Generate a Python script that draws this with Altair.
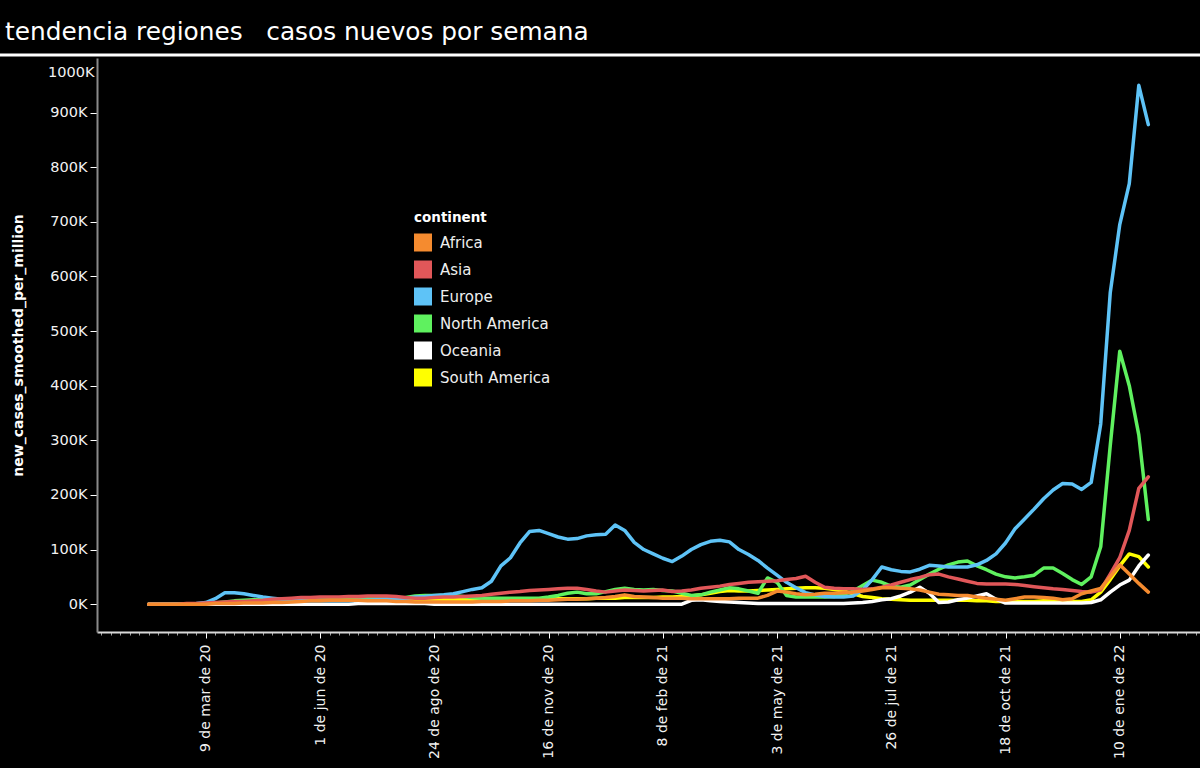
import json

import altair as alt
import pandas as pd

# Weekly series, thousands of new cases (smoothed, per million), starting 27 Jan 2020
FIRST_WEEK = "2020-01-27"
CONTINENTS = ["Africa", "Asia", "Europe", "North America", "Oceania", "South America"]
COLORS = ["#f58b2f", "#e15759", "#5ec3f7", "#5ff15f", "#ffffff", "#ffff00"]

AFRICA = [0, 0, 0, 0, 0, 0,
          0, 1, 1, 1, 2, 2, 2, 3, 3, 4,
          5, 6, 6, 7, 7, 7, 7, 6, 6, 6,
          5, 5, 4, 4, 4, 4, 4, 4, 4, 5,
          5, 5, 6, 6, 6, 7, 7, 8, 9, 9,
          10, 11, 12, 14, 17, 14, 13, 12, 11, 11,
          11, 10, 10, 10, 10, 10, 11, 11, 11, 16,
          24, 22, 19, 17, 18, 20, 20, 21, 22, 24,
          27, 30, 30, 29, 28, 26, 22, 18, 17, 16,
          16, 13, 11, 9, 7, 10, 13, 13, 12, 11,
          8, 10, 19, 24, 29, 50, 72, 55, 38, 22]

ASIA = [0, 0, 0, 0, 1, 1,
        2, 3, 4, 5, 5, 6, 7, 9, 10, 11,
        12, 12, 13, 13, 13, 14, 14, 15, 15, 15,
        14, 12, 11, 11, 12, 13, 13, 14, 15, 16,
        18, 20, 22, 23, 25, 26, 27, 28, 29, 29,
        27, 24, 22, 24, 26, 25, 24, 25, 26, 23,
        24, 26, 29, 31, 33, 36, 38, 40, 41, 42,
        43, 45, 47, 51, 40, 31, 29, 28, 28, 27,
        28, 31, 35, 40, 45, 49, 54, 55, 50, 46,
        42, 38, 37, 37, 37, 36, 34, 32, 30, 28,
        27, 25, 23, 22, 26, 55, 85, 135, 212, 233]

EUROPE = [0, 0, 0, 0, 0, 1,
          3, 10, 21, 21, 19, 16, 13, 11, 9, 7,
          6, 6, 6, 6, 6, 6, 7, 7, 8, 9,
          10, 11, 13, 14, 16, 17, 19, 23, 27, 30,
          42, 70, 85, 112, 133, 135, 129, 123, 119, 120,
          125, 127, 128, 145, 135, 113, 100, 92, 84, 78,
          88, 100, 109, 115, 117, 114, 100, 91, 80, 66,
          53, 40, 30, 21, 17, 14, 13, 13, 15, 26,
          45, 68, 63, 60, 59, 64, 71, 70, 68, 68,
          68, 72, 80, 92, 112, 138, 156, 174, 193, 209,
          221, 220, 210, 223, 330, 570, 695, 770, 950, 878]

NORTH_AMERICA = [0, 0, 0, 0, 0, 0,
                 1, 2, 4, 6, 7, 8, 8, 8, 7, 7,
                 7, 7, 8, 9, 10, 11, 12, 12, 12, 11,
                 11, 12, 15, 16, 16, 16, 16, 14, 12, 11,
                 11, 11, 11, 11, 11, 11, 13, 16, 20, 22,
                 19, 19, 23, 27, 29, 27, 26, 27, 25, 24,
                 20, 16, 17, 22, 26, 30, 28, 24, 20, 48,
                 40, 16, 13, 13, 13, 13, 14, 18, 24, 34,
                 44, 40, 33, 31, 35, 45, 55, 64, 72, 77,
                 79, 70, 63, 55, 50, 48, 50, 53, 66, 66,
                 56, 45, 36, 50, 105, 290, 463, 400, 310, 155]

OCEANIA = [0, 0, 0, 0, 0, 0,
           0, 0, 0, 0, 0, 0, 0, 0, 0, 0,
           0, 0, 0, 0, 0, 0, 1, 1, 1, 1,
           1, 1, 1, 1, 0, 0, 0, 0, 0, 0,
           0, 0, 0, 0, 0, 0, 0, 0, 0, 0,
           0, 0, 0, 0, 0, 0, 0, 0, 0, 0,
           0, 7, 8, 6, 5, 4, 3, 2, 1, 1,
           1, 1, 1, 1, 1, 1, 1, 1, 2, 3,
           5, 8, 10, 15, 22, 31, 20, 3, 4, 8,
           11, 15, 19, 9, 2, 2, 2, 2, 2, 2,
           2, 2, 2, 3, 8, 22, 35, 44, 70, 90]

SOUTH_AMERICA = [0, 0, 0, 0, 0, 0,
                 0, 0, 1, 1, 1, 2, 3, 4, 5, 6,
                 7, 8, 9, 10, 10, 11, 11, 11, 11, 11,
                 10, 10, 9, 9, 9, 8, 8, 8, 8, 8,
                 8, 9, 9, 9, 9, 9, 9, 10, 10, 10,
                 10, 11, 11, 11, 12, 12, 12, 12, 13, 13,
                 14, 15, 17, 20, 23, 25, 24, 24, 25, 26,
                 27, 28, 29, 30, 30, 29, 27, 24, 19, 14,
                 12, 10, 9, 8, 7, 7, 7, 7, 7, 7,
                 7, 6, 6, 5, 5, 5, 5, 5, 6, 6,
                 6, 5, 5, 8, 22, 45, 70, 92, 87, 68]

SERIES = [AFRICA, ASIA, EUROPE, NORTH_AMERICA, OCEANIA, SOUTH_AMERICA]

# Axis
TICK_DATES = ["2020-03-09", "2020-06-01", "2020-08-24", "2020-11-16", "2021-02-08",
              "2021-05-03", "2021-07-26", "2021-10-18", "2022-01-10"]
TICK_LABELS = ["9 de mar de 20", "1 de jun de 20", "24 de ago de 20", "16 de nov de 20",
               "8 de feb de 21", "3 de may de 21", "26 de jul de 21", "18 de oct de 21",
               "10 de ene de 22"]
AXIS_START, AXIS_END = "2019-12-20", "2022-03-10"
FIRST_MINOR_TICK = "2019-12-23"
Y_TICKS = [0, 100000, 200000, 300000, 400000, 500000, 600000, 700000, 800000, 900000, 1000000]
Y_DOMAIN = [-51000, 1000000]

FONT = "DejaVu Sans"


def ms(day):
    return int(pd.Timestamp(day).value // 1_000_000)


weeks = pd.date_range(FIRST_WEEK, periods=len(EUROPE), freq="7D")
rows = []
for name, values in zip(CONTINENTS, SERIES):
    for day, v in zip(weeks, values):
        rows.append({"week": day.strftime("%Y-%m-%d"), "continent": name, "cases": v * 1000})
df = pd.DataFrame(rows)

major_ms = json.dumps([ms(d) for d in TICK_DATES])
minor_ms = [ms(d) for d in pd.date_range(FIRST_MINOR_TICK, AXIS_END, freq="7D")]
is_major = f"indexof({major_ms}, toNumber(datum.value)) >= 0"
label_expr = (f"{is_major} ? {json.dumps(TICK_LABELS)}"
              f"[indexof({major_ms}, toNumber(datum.value))] : ''")

x = alt.X(
    "week:T",
    scale=alt.Scale(type="utc", domain=[ms(AXIS_START), ms(AXIS_END)]),
    axis=alt.Axis(
        values=minor_ms,
        labelExpr=label_expr,
        labelAngle=-90,
        labelAlign="right",
        labelBaseline="middle",
        labelPadding=6,
        labelOverlap=False,
        labelFlush=False,
        labelFont=FONT,
        labelFontSize=14,
        labelColor="#f2f2f2",
        tickSize={"condition": {"test": is_major, "value": 6}, "value": 3},
        tickColor={"condition": {"test": is_major, "value": "#ffffff"}, "value": "#a0a0a0"},
        tickWidth=1,
        domainColor="#d9d9d9",
        domainWidth=2,
        grid=False,
        title=None,
    ),
)

y = alt.Y(
    "cases:Q",
    scale=alt.Scale(domain=Y_DOMAIN, nice=False, zero=False),
    axis=alt.Axis(
        values=Y_TICKS,
        labelExpr="datum.value / 1000 + 'K'",
        labelFont=FONT,
        labelFontSize=14.5,
        labelColor="#f2f2f2",
        labelPadding=3,
        labelFlush=True,
        labelFlushOffset=-7,
        tickSize={"condition": {"test": "datum.value >= 1000000", "value": 0}, "value": 7},
        tickColor="#ffffff",
        domainColor="#8a8a8a",
        domainWidth=2,
        grid=False,
        title="new_cases_smoothed_per_million",
        titleFont=FONT,
        titleFontSize=14,
        titleFontWeight="bold",
        titleColor="#ffffff",
        titlePadding=22,
    ),
)

color = alt.Color(
    "continent:N",
    scale=alt.Scale(domain=CONTINENTS, range=COLORS),
    legend=alt.Legend(
        title="continent",
        orient="none",
        legendX=317,
        legendY=153,
        padding=0,
        symbolType="square",
        symbolSize=324,
        symbolStrokeWidth=0,
        symbolOpacity=1,
        labelFont=FONT,
        labelFontSize=15,
        labelColor="#eeeeee",
        labelOffset=8,
        rowPadding=9,
        titleFont=FONT,
        titleFontSize=13.5,
        titleFontWeight="bold",
        titleColor="#ffffff",
        titlePadding=9,
    ),
)

# Zero-size squares: they only give the legend filled swatches
legend_keys = (
    alt.Chart(df)
    .mark_square(size=0, opacity=1, filled=True)
    .encode(x=x, y=y, color=color)
)

# Africa drawn last so it sits on top
layers = [legend_keys]
for name in reversed(CONTINENTS):
    layers.append(
        alt.Chart(df)
        .transform_filter(alt.datum.continent == name)
        .mark_line(strokeWidth=3.5, strokeJoin="round", strokeCap="round")
        .encode(x=x, y=y, color=color)
    )

separator = (
    alt.Chart(alt.Data(values=[{"line": 1}]))
    .mark_rule(color="#ffffff", strokeWidth=3)
    .encode(x=alt.value(-97), x2=alt.value(1103), y=alt.value(-3))
)

chart = (
    alt.layer(*layers, separator)
    .properties(
        width=1103,
        height=574,
        autosize="none",
        padding={"left": 97, "top": 58, "right": 0, "bottom": 136},
        background="#000000",
        title=alt.TitleParams(
            text="tendencia regiones\u00a0\u00a0\u00a0casos nuevos por semana",
            anchor="start",
            frame="group",
            orient="top",
            dx=-92,
            dy=29,
            offset=18,
            baseline="alphabetic",
            font=FONT,
            fontSize=24.8,
            fontWeight="normal",
            color="#ffffff",
        ),
    )
    .configure_view(strokeWidth=0)
)

chart.save("out.html", embed_options={"renderer": "svg", "actions": False})
